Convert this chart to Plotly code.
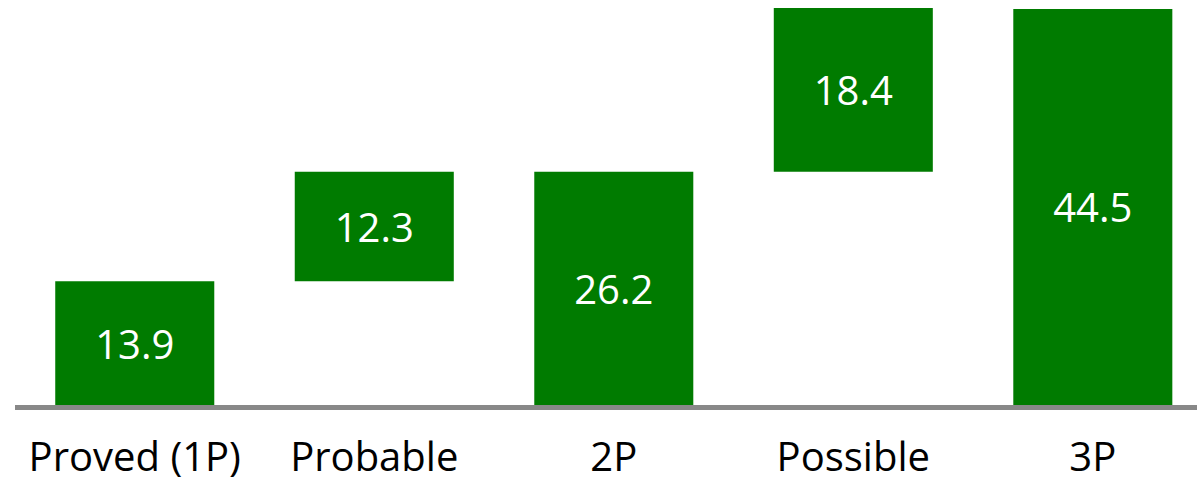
import plotly.graph_objects as go

# Reserve categories and volumes
categories = ["Proved (1P)", "Probable", "2P", "Possible", "3P"]
values = [13.9, 12.3, 26.2, 18.4, 44.5]
is_total = [False, False, True, False, True]

# Floating bars: increments start at the running total, totals start at zero
bases = []
running = 0.0
for v, tot in zip(values, is_total):
    if tot:
        bases.append(0.0)
        running = v
    else:
        bases.append(running)
        running += v

GREEN = "#007b00"
FONT = "Open Sans"

fig = go.Figure(
    go.Bar(
        x=categories,
        y=values,
        base=bases,
        marker=dict(color=GREEN, line=dict(width=0)),
        text=[f"{v:.1f}" for v in values],
        textposition="inside",
        insidetextanchor="middle",
        textangle=0,
        textfont=dict(color="white", size=40, family=FONT),
        width=0.664,
        hoverinfo="skip",
    )
)

fig.update_layout(
    width=1197,
    height=482,
    margin=dict(l=15, r=0, t=0, b=77),
    paper_bgcolor="white",
    plot_bgcolor="white",
    showlegend=False,
    font=dict(family=FONT, size=40, color="black"),
)
fig.update_xaxes(
    range=[-0.5, 4.435],
    automargin=False,
    showgrid=False,
    zeroline=False,
    showline=True,
    linecolor="#888888",
    linewidth=5,
    ticks="",
    ticklabelstandoff=13,
    tickfont=dict(family=FONT, size=40, color="black"),
)
fig.update_yaxes(
    range=[0, 45.5],
    visible=False,
    automargin=False,
    showgrid=False,
    zeroline=False,
)

fig.write_html("out.html")
